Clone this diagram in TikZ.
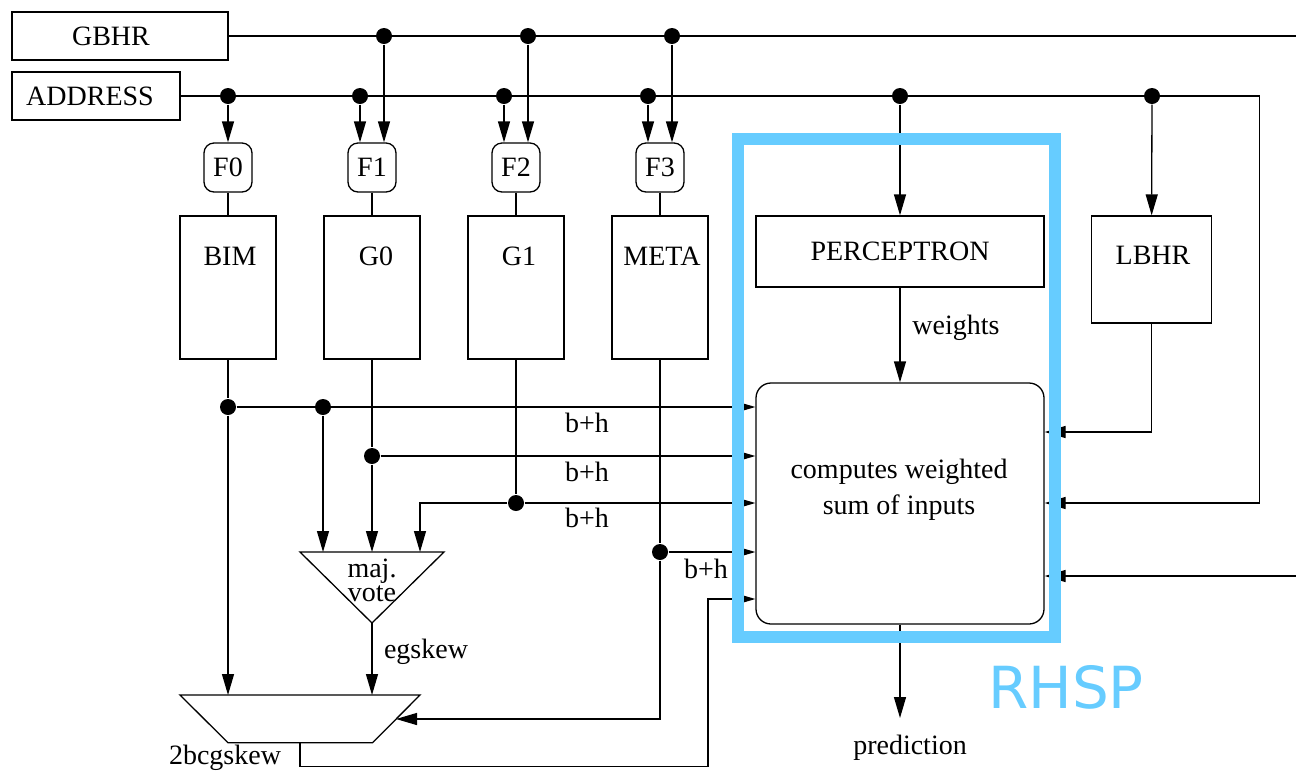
\documentclass[tikz,border=0pt]{standalone}
\usepackage{fontspec}
\setmainfont{Liberation Serif}
\newfontfamily\rhspfont{DejaVu Sans}
\usetikzlibrary{arrows.meta}
\definecolor{rhspblue}{RGB}{102,204,255}
\tikzset{
  blk/.style={draw, inner sep=0pt},
  fbox/.style={draw, rounded corners=5pt, inner sep=0pt, minimum width=24pt, minimum height=24.5pt},
  jdot/.style={circle, fill, inner sep=0pt, minimum size=8pt},
  arr/.style={-{Triangle[length=10.5pt,width=6pt]}},
}
\begin{document}
\begin{tikzpicture}[x=0.5pt,y=0.5pt,yscale=-1,line width=0.65pt,font=\fontsize{14}{16}\selectfont]
\path[use as bounding box] (0,0) rectangle (1296,773);

%Shape: Registers
\node[blk, minimum width=108pt, minimum height=24pt] (gbhr) at (120,36) {GBHR\hspace*{9pt}};
\node[blk, minimum width=84pt, minimum height=24pt] (addr) at (96,96) {ADDRESS\hspace*{6pt}};

%Shape: Function units
\node[fbox] (f0) at (228,167.5) {F0};
\node[fbox] (f1) at (372,167.5) {F1};
\node[fbox] (f2) at (516,167.5) {F2};
\node[fbox] (f3) at (660,167.5) {F3};

%Shape: Tables
\node[blk, minimum width=48pt, minimum height=71.5pt] (bim) at (228,287.5) {};
\node[blk, minimum width=48pt, minimum height=71.5pt] (g0) at (372,287.5) {};
\node[blk, minimum width=48pt, minimum height=71.5pt] (g1) at (516,287.5) {};
\node[blk, minimum width=48pt, minimum height=71.5pt] (meta) at (660,287.5) {};
% Text Node
\node (bimtxt) at (230,256) {BIM};
\node (g0txt) at (376,256) {G0};
\node (g1txt) at (519,256) {G1};
\node (metatxt) at (662,256) {META};

%Shape: Perceptron side
\node[blk, minimum width=144pt, minimum height=35.5pt] (perc) at (900,251.5) {PERCEPTRON};
\node[blk, minimum width=60pt, minimum height=53.5pt] (lbhr) at (1151.5,269.5) {};
\node (lbhrtxt) at (1153,255) {LBHR};
\node[blk, rounded corners=7.5pt, minimum width=144pt, minimum height=120.5pt] (comp) at (900,503.5) {};
\node[align=center, font=\fontsize{14}{18}\selectfont] (comptxt) at (899,490) {computes weighted\\sum of inputs};

%Shape: Junction dots
\node[jdot] (b1) at (384,36) {};
\node[jdot] (b2) at (528,36) {};
\node[jdot] (b3) at (672,36) {};
\node[jdot] (a0) at (228,96) {};
\node[jdot] (a1) at (360,96) {};
\node[jdot] (a2) at (504,96) {};
\node[jdot] (a3) at (648,96) {};
\node[jdot] (ap) at (900,96) {};
\node[jdot] (al) at (1152,96) {};
\node[jdot] (j0) at (228,407) {};
\node[jdot] (j1) at (323,407) {};
\node[jdot] (j2) at (372,456) {};
\node[jdot] (j3) at (516,503) {};
\node[jdot] (j4) at (660,552) {};

\coordinate (gend) at (1296,36);
\coordinate (acorner) at (1259.5,96);
\coordinate (r1) at (1151.5,432);
\coordinate (r2) at (1259.5,503);
\coordinate (r3) at (1296,576);

%Shape: Majority vote
\coordinate (vtl) at (300,552);
\coordinate (vtr) at (444,552);
\coordinate (vtip) at (372,623);
\coordinate (vin) at (420,552);
\draw (vtl) -- (vtr) -- (vtip) -- cycle;
\node[align=center, font=\fontsize{14}{12}\selectfont] (vote) at (372,580) {maj.\\vote};

%Shape: 2bcgskew selector
\coordinate (mtl) at (180,695);
\coordinate (mtr) at (420,695);
\coordinate (mbr) at (372.6,742.7);
\coordinate (mbl) at (228,742.7);
\coordinate (mr) at (396,719);
\coordinate (mout) at (300,742.7);
\coordinate (fb) at (708,599);
\draw (mtl) -- (mtr) -- (mbr) -- (mbl) -- cycle;

%Curve Lines
\draw (gbhr) -- (gend);
\draw[arr] (addr) -- (acorner) -- (r2) -- (r2 -| comp.east);
\draw[arr] (a0) -- (f0);
\draw[arr] (a1) -- (a1 |- f1.north);
\draw[arr] (b1) -- (b1 |- f1.north);
\draw[arr] (a2) -- (a2 |- f2.north);
\draw[arr] (b2) -- (b2 |- f2.north);
\draw[arr] (a3) -- (a3 |- f3.north);
\draw[arr] (b3) -- (b3 |- f3.north);
\draw (f0) -- (bim);
\draw (f1) -- (g0);
\draw (f2) -- (g1);
\draw (f3) -- (meta);

\draw (bim) -- (j0);
\draw[arr] (j0) -- (j0 |- mtl);
\draw[arr] (j0) -- (j0 -| comp.west);
\draw[arr] (j1) -- (j1 |- vtl);
\draw (g0) -- (j2);
\draw[arr] (j2) -- (j2 |- vtl);
\draw[arr] (j2) -- (j2 -| comp.west);
\draw (g1) -- (j3);
\draw[arr] (j3) -- (j3 -| comp.west);
\draw[arr] (j3) -| (vin);
\draw (meta) -- (j4);
\draw[arr] (j4) -- (j4 -| comp.west);
\draw[arr] (j4) |- (mr);
\draw[arr] (vtip) -- (vtip |- mtl);
\draw[arr] (mout) -- ++(0,24) -| (fb) -- (fb -| comp.west);

\draw[arr] (ap) -- (perc);
\draw[arr] (al) -- (lbhr);
\draw[arr] (perc) -- (comp);
\draw[arr] (lbhr) -- (r1) -- (r1 -| comp.east);
\draw[arr] (r3) -- (r3 -| comp.east);
\coordinate (predin) at (900,718);
\draw[arr] (comp) -- (predin);

% Text Node
\node (bh1) at (587,423) {b+h};
\node (bh2) at (587,472) {b+h};
\node (bh3) at (587,518) {b+h};
\node (bh4) at (706,569) {b+h};
\node (egskew) at (426,652) {egskew};
\node (skew) at (225,758) {2bcgskew};
\node (wts) at (956,328) {weights};
\node (pred) at (910,748) {prediction};

%Shape: RHSP frame
\node[draw=rhspblue, line width=6pt, inner sep=0pt, minimum width=158.5pt, minimum height=249pt] (rhsp) at (896.2,388) {};
\node[text=rhspblue, font=\rhspfont\fontsize{29}{32}\selectfont] (rhsplabel) at (1066,687) {RHSP};

\end{tikzpicture}
\end{document}
